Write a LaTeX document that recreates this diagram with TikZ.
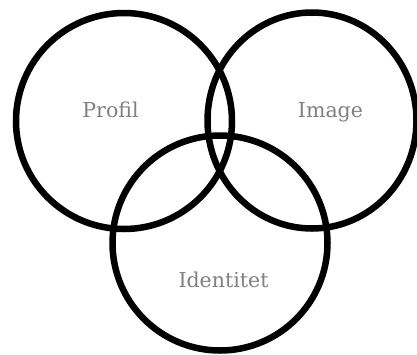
\documentclass[tikz,border=0pt]{standalone}
\usepackage{fontspec}
\setmainfont{DejaVu Serif}
\begin{document}
\begin{tikzpicture}[x=1pt,y=-1pt,
  ring/.style={draw=black,line width=6.5pt},
  lbl/.style={text=black!50,anchor=base,inner sep=0pt,font=\fontsize{20.5}{24}\selectfont}]
\useasboundingbox (0,0) rectangle (417,354);
\begin{scope}
\clip (0,0) rectangle (417,354);
\draw[ring] (124,121) circle[radius=108];
\draw[ring] (312,120.5) ellipse[x radius=104.5,y radius=108];
\draw[ring] (220,243) circle[radius=107.5];
\end{scope}
\node[lbl] (profil) at (110.5,117) {Profil};
\node[lbl] (image) at (330.5,117) {Image};
\node[lbl] (ident) at (223.5,287) {Identitet};
\end{tikzpicture}
\end{document}
